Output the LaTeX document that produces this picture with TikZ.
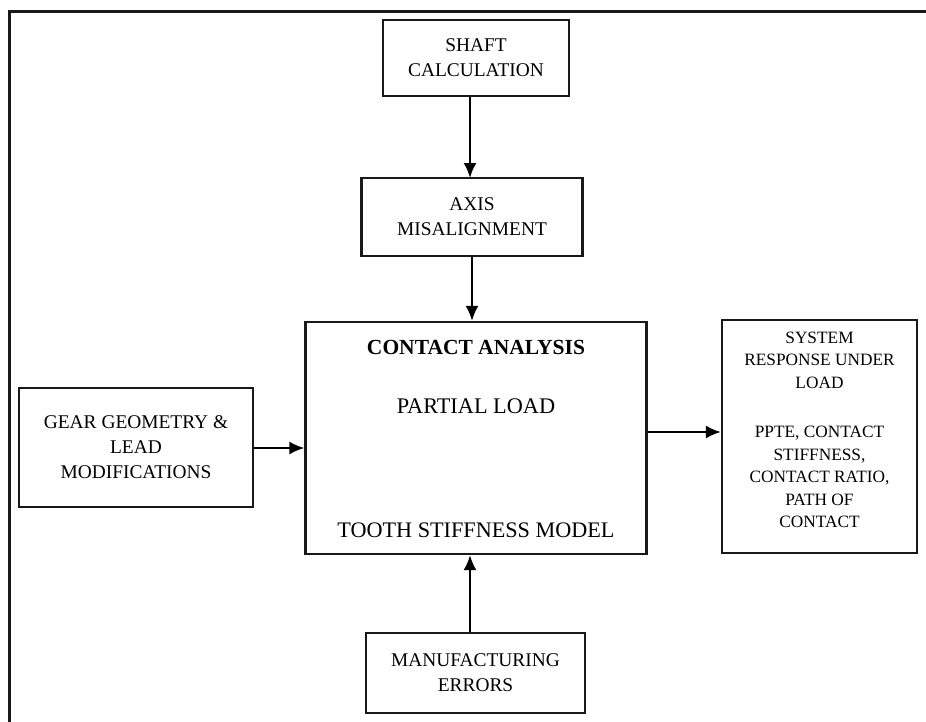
\documentclass[tikz,border=0pt]{standalone}
\usepackage{fontspec}
\setmainfont{Liberation Serif}
\usetikzlibrary{arrows.meta}
\begin{document}
\begin{tikzpicture}[x=1pt,y=-1pt,
  box/.style={draw=black!90,line width=2.2pt,rectangle,inner sep=0pt,align=center},
  conn/.style={line width=2.2pt,-{Latex[length=15pt,width=13pt]}},
  txt/.style={font=\fontsize{19.4}{25}\selectfont},
  rtxt/.style={font=\fontsize{17.3}{22.5}\selectfont}]
\useasboundingbox (0,0) rectangle (926,721);
\begin{scope}
\clip (0,0) rectangle (926,721);
\draw[line width=3pt,black!90] (9,740) -- (9,11) -- (940,11);
\end{scope}
\node[box,minimum width=186pt,minimum height=76pt,txt] (shaft) at (476,58) {SHAFT\\CALCULATION};
\node[box,minimum width=221pt,minimum height=78pt,txt] (axis) at (472,217) {AXIS\\MISALIGNMENT};
\node[box,minimum width=341pt,minimum height=232pt] (contact) at (476,438) {};
\node[font=\bfseries\fontsize{21.5}{24}\selectfont] (ca) at (476,347) {CONTACT ANALYSIS};
\node[font=\fontsize{22.3}{24}\selectfont] (pl) at (476,406) {PARTIAL LOAD};
\node[font=\fontsize{22.2}{24}\selectfont] (tsm) at (476,530) {TOOTH STIFFNESS MODEL};
\node[box,minimum width=234pt,minimum height=119pt,txt] (gear) at (136,447.5) {GEAR GEOMETRY \&\\LEAD\\MODIFICATIONS};
\node[box,minimum width=219pt,minimum height=80pt,txt] (manuf) at (475.5,673) {MANUFACTURING\\ERRORS};
\node[box,minimum width=195pt,minimum height=233pt] (resp) at (819.5,436.5) {};
\node[rtxt,align=center] (r1) at (819.5,360) {SYSTEM\\RESPONSE UNDER\\LOAD};
\node[rtxt,align=center] (r2) at (819.5,477) {PPTE, CONTACT\\STIFFNESS,\\CONTACT RATIO,\\PATH OF\\CONTACT};
\draw[conn] (shaft.south -| 470,0) -- (470,178);
\draw[conn] (axis.south -| 472,0) -- (contact.north -| 472,0);
\draw[conn] (manuf.north -| 470,0) -- (contact.south -| 470,0);
\draw[conn] (gear.east |- 0,448) -- (contact.west |- 0,448);
\draw[conn] (contact.east |- 0,432) -- (resp.west |- 0,432);
\end{tikzpicture}
\end{document}
